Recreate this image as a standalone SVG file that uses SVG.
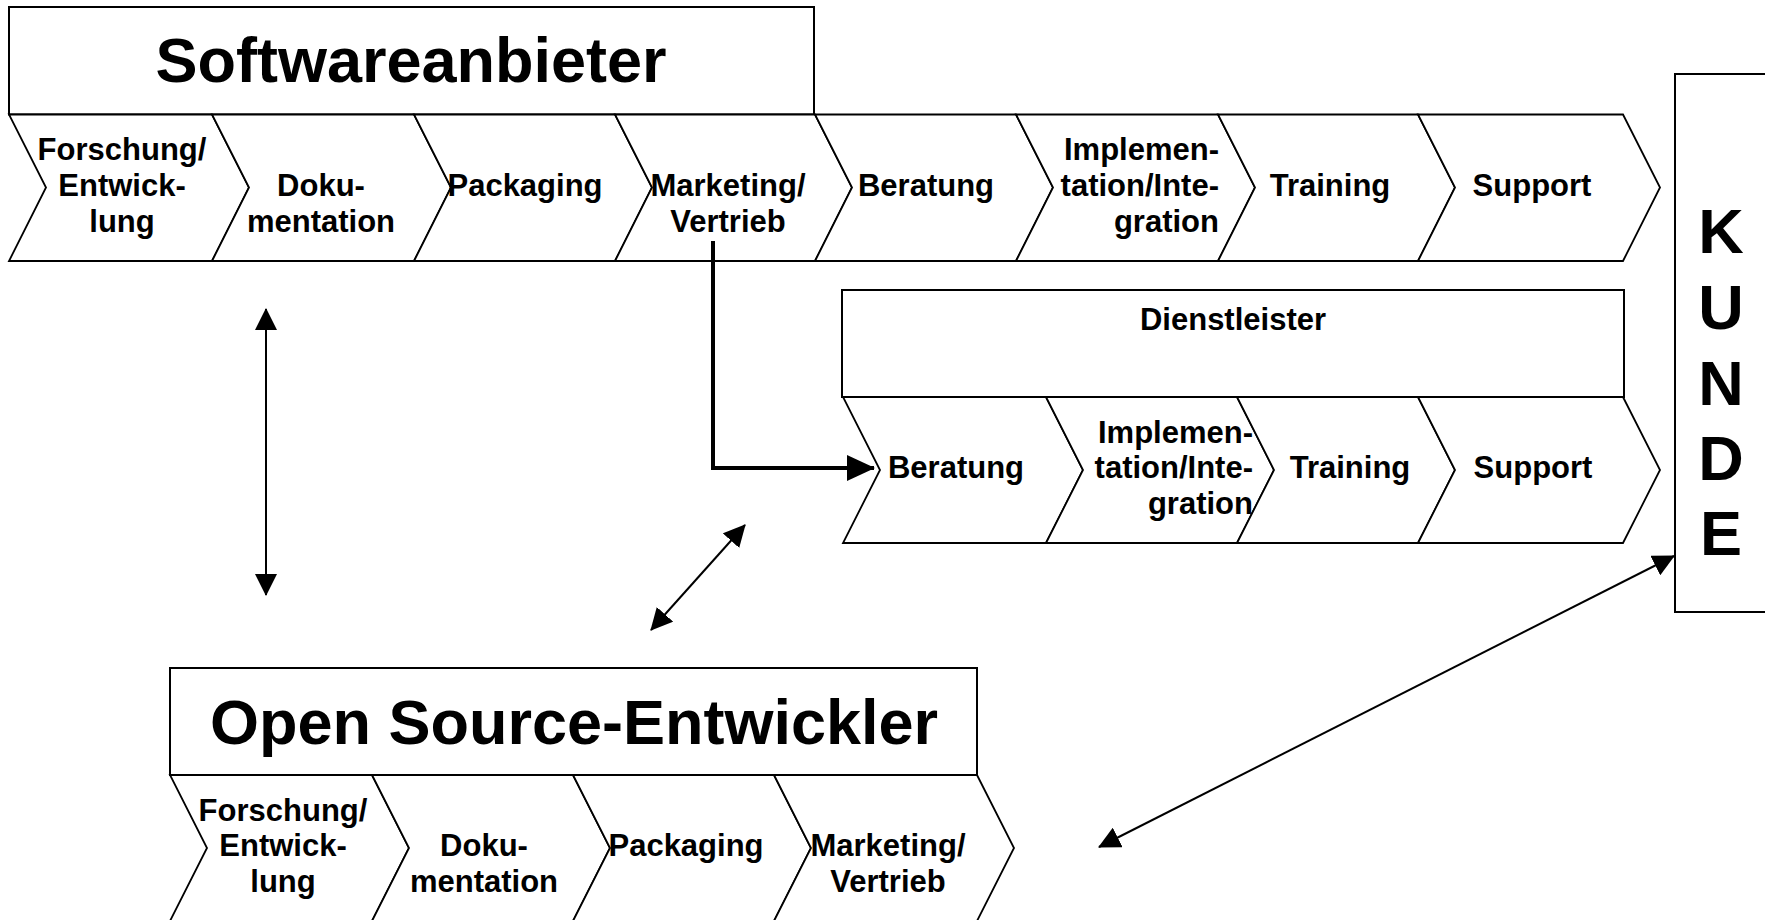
<svg xmlns="http://www.w3.org/2000/svg" width="1765" height="920" viewBox="0 0 1765 920">
  <style>
    .box { fill: #fff; stroke: #000; stroke-width: 2; }
    .chev { fill: #fff; stroke: #000; stroke-width: 1.8; stroke-linejoin: miter; }
    .t { font-family: "Liberation Sans", Arial, sans-serif; font-weight: bold; fill: #000; }
    .s { font-size: 31px; text-anchor: middle; }
    .e { font-size: 31px; text-anchor: end; }
    .title { font-size: 63px; text-anchor: middle; }
    .conn { fill: none; stroke: #000; stroke-width: 2; }
    .bold { fill: none; stroke: #000; stroke-width: 4; }
  </style>
  <defs>
    <marker id="arrow" markerUnits="userSpaceOnUse" markerWidth="22" markerHeight="22" viewBox="0 0 22 22" refX="21" refY="11" orient="auto-start-reverse">
      <path d="M0,0 L22,11 L0,22 Z" fill="#000"/>
    </marker>
    <marker id="arrowBold" markerUnits="userSpaceOnUse" markerWidth="28" markerHeight="28" viewBox="0 0 28 28" refX="27" refY="13" orient="auto">
      <path d="M0,0 L28,13 L0,26 Z" fill="#000"/>
    </marker>
  </defs>

  <rect width="1765" height="920" fill="#fff"/>

  <!-- Softwareanbieter: header and full value chain -->
  <g id="softwareanbieter">
    <rect class="box" x="9" y="7" width="805" height="107.5"/>
    <text class="t title" x="411" y="82">Softwareanbieter</text>
    <polygon class="chev" points="9,114.5 212,114.5 249,187.5 212,261 9,261 46,187.5"/>
    <polygon class="chev" points="212,114.5 414,114.5 451,187.5 414,261 212,261 249,187.5"/>
    <polygon class="chev" points="414,114.5 615,114.5 652,187.5 615,261 414,261 451,187.5"/>
    <polygon class="chev" points="615,114.5 815,114.5 852,187.5 815,261 615,261 652,187.5"/>
    <polygon class="chev" points="815,114.5 1016,114.5 1053,187.5 1016,261 815,261 852,187.5"/>
    <polygon class="chev" points="1016,114.5 1218,114.5 1255,187.5 1218,261 1016,261 1053,187.5"/>
    <polygon class="chev" points="1218,114.5 1418,114.5 1455,187.5 1418,261 1218,261 1255,187.5"/>
    <polygon class="chev" points="1418,114.5 1623,114.5 1660,187.5 1623,261 1418,261 1455,187.5"/>
    <text class="t s" x="122" y="160">Forschung/</text>
    <text class="t s" x="122" y="195.5">Entwick-</text>
    <text class="t s" x="122" y="231.5">lung</text>
    <text class="t s" x="321" y="195.5">Doku-</text>
    <text class="t s" x="321" y="231.5">mentation</text>
    <text class="t s" x="525" y="195.5">Packaging</text>
    <text class="t s" x="728" y="195.5">Marketing/</text>
    <text class="t s" x="728" y="231.5">Vertrieb</text>
    <text class="t s" x="926" y="195.5">Beratung</text>
    <text class="t e" x="1219" y="160">Implemen-</text>
    <text class="t e" x="1219" y="195.5">tation/Inte-</text>
    <text class="t e" x="1219" y="231.5">gration</text>
    <text class="t s" x="1330" y="195.5">Training</text>
    <text class="t s" x="1532" y="195.5">Support</text>
  </g>

  <!-- Dienstleister: service part of the chain -->
  <g id="dienstleister">
    <rect class="box" x="842" y="290" width="782" height="107"/>
    <text class="t s" x="1233" y="330">Dienstleister</text>
    <polygon class="chev" points="843,397 1046,397 1083,470 1046,543 843,543 880,470"/>
    <polygon class="chev" points="1046,397 1237,397 1274,470 1237,543 1046,543 1083,470"/>
    <polygon class="chev" points="1237,397 1418,397 1455,470 1418,543 1237,543 1274,470"/>
    <polygon class="chev" points="1418,397 1623,397 1660,470 1623,543 1418,543 1455,470"/>
    <text class="t s" x="956" y="478">Beratung</text>
    <text class="t e" x="1253" y="442.5">Implemen-</text>
    <text class="t e" x="1253" y="478">tation/Inte-</text>
    <text class="t e" x="1253" y="514">gration</text>
    <text class="t s" x="1350" y="478">Training</text>
    <text class="t s" x="1533" y="478">Support</text>
  </g>

  <!-- Kunde: customer column on the right -->
  <g id="kunde">
    <rect class="box" x="1675" y="74" width="110" height="538"/>
    <text class="t title" x="1721" y="253">K</text>
    <text class="t title" x="1721" y="329">U</text>
    <text class="t title" x="1721" y="405">N</text>
    <text class="t title" x="1721" y="480">D</text>
    <text class="t title" x="1721" y="555">E</text>
  </g>

  <!-- Open Source-Entwickler: header and development chain -->
  <g id="open-source-entwickler">
    <rect class="box" x="170" y="668" width="807" height="107"/>
    <text class="t title" x="574" y="744">Open Source-Entwickler</text>
    <polygon class="chev" points="170,775 372,775 409,848 372,921 170,921 207,848"/>
    <polygon class="chev" points="372,775 573,775 610,848 573,921 372,921 409,848"/>
    <polygon class="chev" points="573,775 774,775 811,848 774,921 573,921 610,848"/>
    <polygon class="chev" points="774,775 977,775 1014,848 977,921 774,921 811,848"/>
    <text class="t s" x="283" y="820.5">Forschung/</text>
    <text class="t s" x="283" y="856">Entwick-</text>
    <text class="t s" x="283" y="892">lung</text>
    <text class="t s" x="484" y="856">Doku-</text>
    <text class="t s" x="484" y="892">mentation</text>
    <text class="t s" x="686" y="856">Packaging</text>
    <text class="t s" x="888" y="856">Marketing/</text>
    <text class="t s" x="888" y="892">Vertrieb</text>
  </g>

  <!-- Connectors -->
  <g id="connectors">
    <line class="conn" x1="266" y1="309" x2="266" y2="595" marker-start="url(#arrow)" marker-end="url(#arrow)"/>
    <line class="conn" x1="745" y1="525" x2="651" y2="630" marker-start="url(#arrow)" marker-end="url(#arrow)"/>
    <line class="conn" x1="1674" y1="556" x2="1099" y2="847" marker-start="url(#arrow)" marker-end="url(#arrow)"/>
    <path class="bold" d="M713,241 V468 H874" marker-end="url(#arrowBold)"/>
  </g>
</svg>
